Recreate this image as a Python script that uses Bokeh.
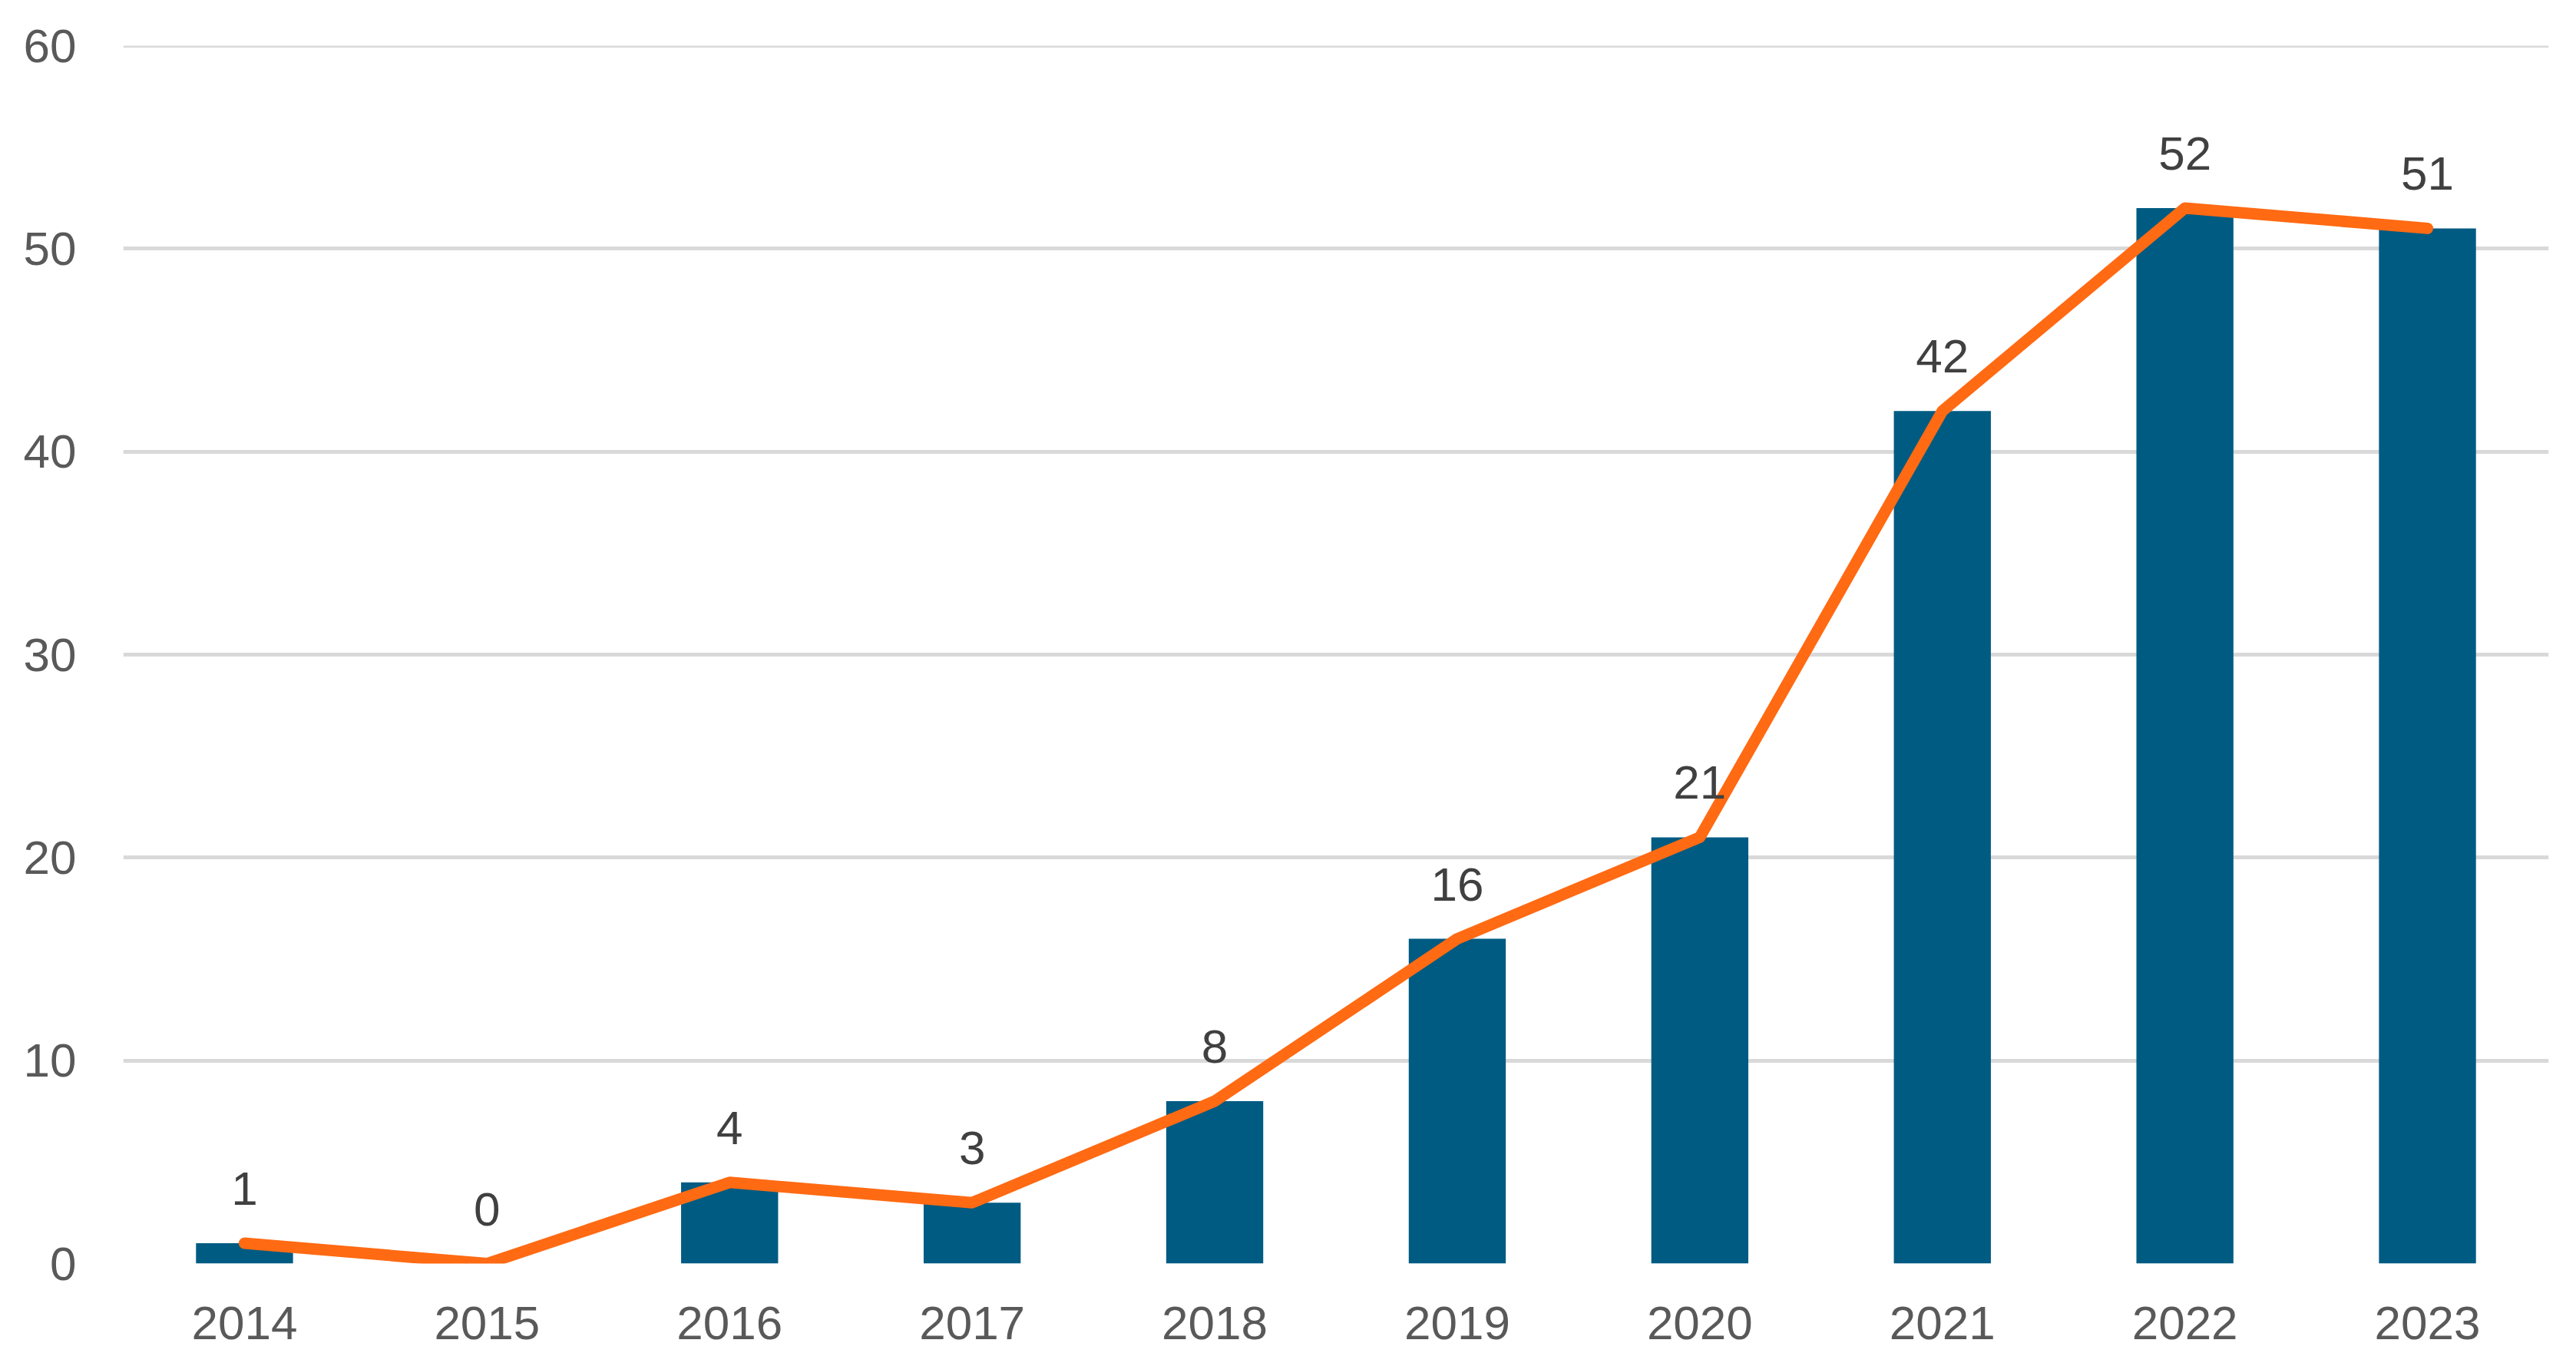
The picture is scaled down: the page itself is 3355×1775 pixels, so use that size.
from bokeh.plotting import figure
from bokeh.models import FactorRange, Range1d, FixedTicker, ColumnDataSource, Span
from bokeh.core.properties import value
from bokeh.embed import file_html
from bokeh.resources import INLINE

years = ["2014", "2015", "2016", "2017", "2018", "2019", "2020", "2021", "2022", "2023"]
counts = [1, 0, 4, 3, 8, 16, 21, 42, 52, 51]
y_ticks = [0, 10, 20, 30, 40, 50, 60]

FONT = "Liberation Sans"
BAR_COLOR = "#005B82"
LINE_COLOR = "#FF6A13"
GRID_COLOR = "#D9D9D9"

src = ColumnDataSource(dict(x=years, y=counts, lbl=[str(v) for v in counts]))

p = figure(
    width=3339, height=1759,
    x_range=FactorRange(*years, range_padding=0),
    y_range=Range1d(y_ticks[0], y_ticks[-1]),
    output_backend="svg", toolbar_location=None,
    min_border_left=160, min_border_right=20, min_border_top=59, min_border_bottom=114,
)
p.outline_line_color = None
p.background_fill_color = "white"
p.border_fill_color = "white"

p.xgrid.grid_line_color = None
p.ygrid.grid_line_color = GRID_COLOR
p.ygrid.grid_line_width = 5
p.yaxis.ticker = FixedTicker(ticks=y_ticks)
p.add_layout(Span(location=y_ticks[-1], dimension="width", line_color=GRID_COLOR, line_width=5, level="underlay"))

p.vbar(x="x", top="y", width=0.4, source=src, fill_color=BAR_COLOR, line_color=None)
p.line(x="x", y="y", source=src, line_color=LINE_COLOR, line_width=15, line_join="round", line_cap="round")
p.text(x="x", y="y", text="lbl", source=src, y_offset=-71,
       text_align="center", text_baseline="middle",
       text_font=value(FONT), text_font_size="62px", text_color="#404040")

for ax in (p.xaxis, p.yaxis):
    ax.axis_line_color = None
    ax.major_tick_line_color = None
    ax.minor_tick_line_color = None
    ax.major_tick_out = 0
    ax.major_tick_in = 0
    ax.major_label_text_font = FONT
    ax.major_label_text_font_size = "62px"
    ax.major_label_text_color = "#595959"

p.xaxis.major_label_standoff = 56
p.yaxis.major_label_standoff = 61

open("out.html", "w").write(file_html(p, INLINE))
